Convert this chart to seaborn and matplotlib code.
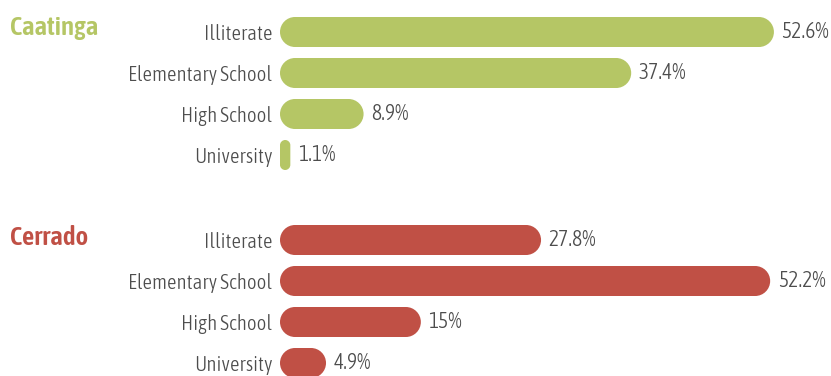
import matplotlib
matplotlib.use("Agg")
import matplotlib.pyplot as plt
from matplotlib.path import Path
from matplotlib.patches import PathPatch
from matplotlib.textpath import TextPath
from matplotlib import font_manager as fm
import seaborn as sns
import pandas as pd

categories = ["Illiterate", "Elementary School", "High School", "University"]
caatinga_values = [52.6, 37.4, 8.9, 1.1]
cerrado_values = [27.8, 52.2, 15, 4.9]
groups = ["Caatinga", "Cerrado"]
group_colors = ["#b5c665", "#c05045"]

sns.set_theme(style="white")

# ---- pick a condensed sans font available locally ----
candidates = ["Fira Sans Extra Condensed", "Fira Sans Condensed",
              "Roboto Condensed", "Open Sans Condensed", "PT Sans Narrow",
              "Archivo Narrow", "Encode Sans Condensed",
              "Encode Sans Extra Condensed", "Asap Condensed",
              "Barlow Semi Condensed", "Barlow Condensed",
              "IBM Plex Sans Condensed", "Sofia Sans Condensed",
              "Sofia Sans Extra Condensed", "Pragati Narrow",
              "Ubuntu Condensed", "Liberation Sans Narrow"]
available = {f.name for f in fm.fontManager.ttflist}
TARGET_RATIO = 141 / 14.5   # width of "Elementary School" / cap height
best = None
for name in candidates:
    if name not in available:
        continue
    try:
        fp = fm.FontProperties(family=name, weight=300)
        fm.findfont(fp, fallback_to_default=False)
        w = TextPath((0, 0), "Elementary School", size=100, prop=fp).get_extents().width
        h = TextPath((0, 0), "E", size=100, prop=fp).get_extents().height
        score = abs(w / h - TARGET_RATIO)
        if best is None or score < best[0]:
            best = (score, name, w)
    except Exception:
        continue

if best is not None:
    FAMILY = best[1]
    w100 = best[2]
else:
    FAMILY = "DejaVu Sans"
    w100 = TextPath((0, 0), "Elementary School", size=100,
                    prop=fm.FontProperties(family=FAMILY)).get_extents().width
plt.rcParams["font.family"] = [FAMILY, "DejaVu Sans"]

label_px = 100 * 141 / w100
LABEL_PT = label_px * 72 / 100
fp_b = fm.FontProperties(family=FAMILY, weight="semibold")
wt = TextPath((0, 0), "Caatinga", size=100, prop=fp_b).get_extents().width
TITLE_PT = (100 * 86 / wt) * 72 / 100

W, H = 831, 376
fig = plt.figure(figsize=(W / 100, H / 100), dpi=100)

XMAX = 55.0
ax_left_px, ax_right_px = 280, 280 + 9.39 * XMAX
row_px = 41.0
text_color = "#4d4d4d"


def pill_path(x0, y0, w, h, sx, sy):
    r_px = min(w * sx, h * sy) / 2.0
    rx, ry = r_px / sx, r_px / sy
    k = 0.5523
    x1, y1 = x0 + w, y0 + h
    verts = [
        (x0 + rx, y0), (x1 - rx, y0),
        (x1 - rx + k * rx, y0), (x1, y0 + ry - k * ry), (x1, y0 + ry),
        (x1, y1 - ry),
        (x1, y1 - ry + k * ry), (x1 - rx + k * rx, y1), (x1 - rx, y1),
        (x0 + rx, y1),
        (x0 + rx - k * rx, y1), (x0, y1 - ry + k * ry), (x0, y1 - ry),
        (x0, y0 + ry),
        (x0, y0 + ry - k * ry), (x0 + rx - k * rx, y0), (x0 + rx, y0),
        (x0 + rx, y0),
    ]
    codes = [Path.MOVETO, Path.LINETO,
             Path.CURVE4, Path.CURVE4, Path.CURVE4,
             Path.LINETO,
             Path.CURVE4, Path.CURVE4, Path.CURVE4,
             Path.LINETO,
             Path.CURVE4, Path.CURVE4, Path.CURVE4,
             Path.LINETO,
             Path.CURVE4, Path.CURVE4, Path.CURVE4,
             Path.CLOSEPOLY]
    return Path(verts, codes)


first_row_centers = [32, 240]
title_baselines = [35, 245]
values_list = [caatinga_values, cerrado_values]

for g, name in enumerate(groups):
    top_px = first_row_centers[g] - row_px / 2
    height_px = row_px * len(categories)
    ax = fig.add_axes([ax_left_px / W, 1 - (top_px + height_px) / H,
                       (ax_right_px - ax_left_px) / W, height_px / H])
    df = pd.DataFrame({"category": categories, "value": values_list[g]})
    sns.barplot(data=df, y="category", x="value", orient="h",
                color=group_colors[g], width=30 / row_px, ax=ax,
                saturation=1)
    ax.set_xlim(0, XMAX)
    ax.set_ylim(len(categories) - 0.5, -0.5)
    sx = (ax_right_px - ax_left_px) / XMAX
    sy = row_px
    for p in list(ax.patches):
        x0, y0, w, h = p.get_x(), p.get_y(), p.get_width(), p.get_height()
        p.set_visible(False)
        pp = PathPatch(pill_path(x0, y0, w, h, sx, sy),
                       facecolor=group_colors[g], edgecolor="none",
                       clip_on=False)
        ax.add_patch(pp)
    for i, v in enumerate(values_list[g]):
        ax.annotate(f"{v:g}%", xy=(v, i), xytext=(5.5, 0),
                    textcoords="offset points", va="center", ha="left",
                    fontsize=LABEL_PT * 1.04, color=text_color, fontweight=300,
                    annotation_clip=False)
    ax.set_xlabel("")
    ax.set_ylabel("")
    ax.set_xticks([])
    ax.tick_params(axis="y", length=0, pad=5.5, labelsize=LABEL_PT,
                   labelcolor=text_color)
    for t in ax.get_yticklabels():
        t.set_fontweight(300)
    for s in ax.spines.values():
        s.set_visible(False)
    ax.patch.set_alpha(0)
    fig.text(10 / W, 1 - title_baselines[g] / H, name, fontsize=TITLE_PT,
             fontweight="semibold", color=group_colors[g], va="baseline",
             ha="left")

fig.savefig("out.png", dpi=100)
